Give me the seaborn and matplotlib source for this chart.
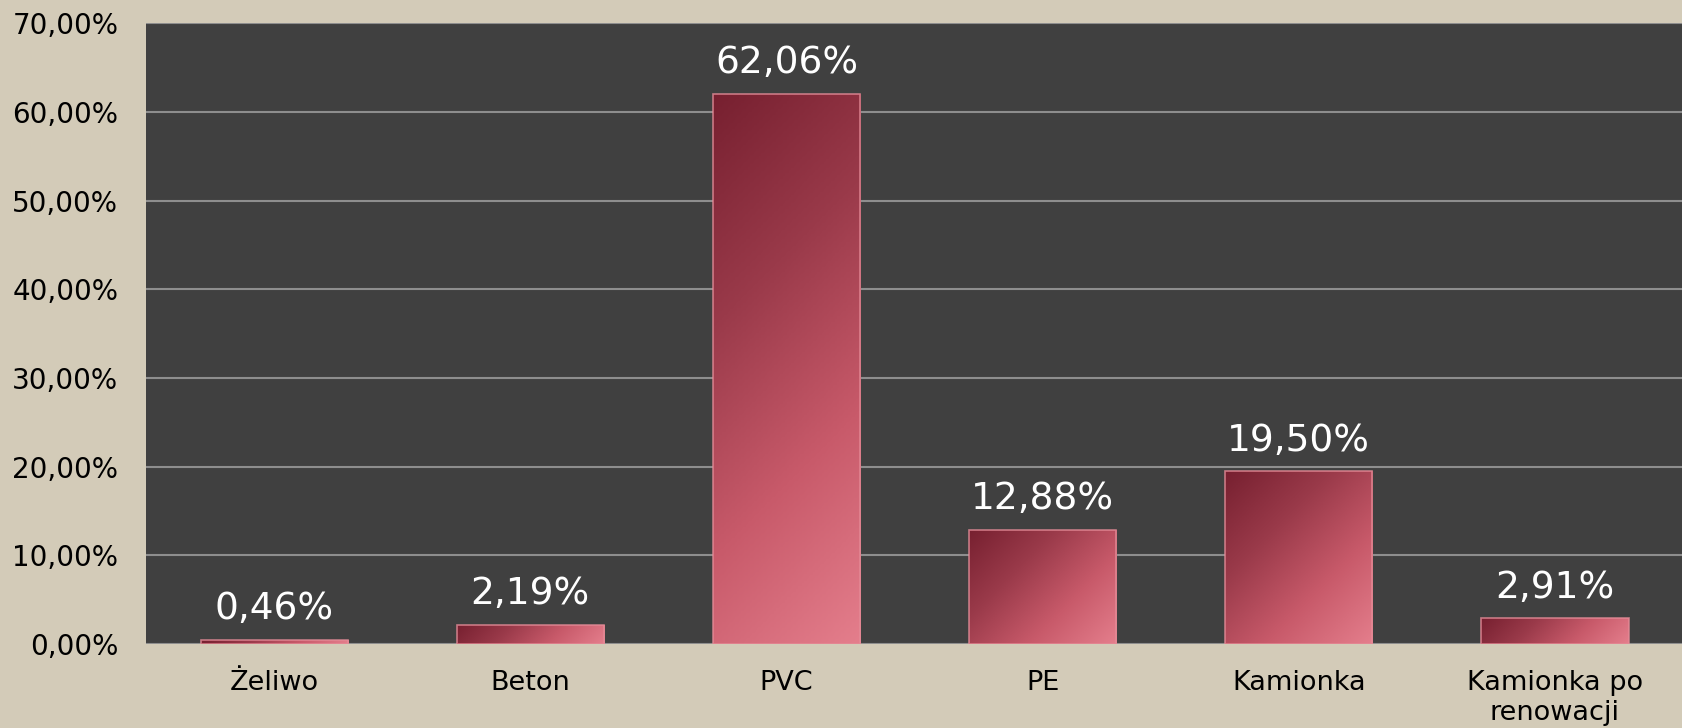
import numpy as np
import matplotlib
matplotlib.use("Agg")
import matplotlib.pyplot as plt
from matplotlib.colors import LinearSegmentedColormap
from matplotlib.patches import Rectangle
from matplotlib.ticker import FuncFormatter, MultipleLocator
import seaborn as sb

# data
categories = ["Żeliwo", "Beton", "PVC", "PE", "Kamionka", "Kamionka po\nrenowacji"]
values = [0.46, 2.19, 62.06, 12.88, 19.50, 2.91]

sb.set_style("white")
plt.rcParams['font.family'] = ['DejaVu Sans']

fig = plt.figure(figsize=(16.83, 7.28), dpi=100, facecolor="#D3CBB8")
ax = fig.add_axes([0.0868, 0.1154, 0.9132, 0.8526])
ax.set_facecolor("#404040")

sb.barplot(x=categories, y=values, ax=ax, width=0.575, color="#B04858",
           edgecolor="none", linewidth=0, zorder=3)

ax.set_xlim(-0.5, len(categories) - 0.5)
ax.set_ylim(0, 70)
ax.set_autoscale_on(False)
ax.yaxis.set_major_locator(MultipleLocator(10))
ax.yaxis.set_major_formatter(FuncFormatter(lambda v, p: f"{v:.2f}%".replace(".", ",")))
ax.grid(axis="y", color="#8E8E8E", linewidth=1.5, zorder=0)
ax.set_axisbelow(True)
for s in ax.spines.values():
    s.set_visible(False)
ax.tick_params(axis="y", length=0, pad=20, labelsize=20, labelcolor="black")
ax.tick_params(axis="x", length=0, pad=19, labelsize=19.5, labelcolor="black")
ax.set_xlabel("")
ax.set_ylabel("")

# gradient fill clipped to each bar (dark top-left -> pink bottom-right)
cmap = LinearSegmentedColormap.from_list("bar", ["#772030", "#9A3A4A", "#C85A6A", "#E47E8C"])
fig.canvas.draw()
bars = list(ax.patches)
for bar in bars:
    x0, y0 = bar.get_x(), bar.get_y()
    w, h = bar.get_width(), bar.get_height()
    (px0, py0), (px1, py1) = ax.transData.transform([(x0, y0), (x0 + w, y0 + h)])
    pw, ph = max(px1 - px0, 1), max(py1 - py0, 1)
    u = np.linspace(0, 1, 80)[None, :] * pw
    v = np.linspace(0, 1, 200)[:, None] * ph  # from top
    t = (u + v) / (pw + ph)
    im = ax.imshow(t, cmap=cmap, extent=(x0, x0 + w, y0, y0 + h), origin="upper",
                   aspect="auto", zorder=4, vmin=0, vmax=1)
    im.set_clip_path(bar)
    # light bevel outline
    ax.add_patch(Rectangle((x0, y0), w, h, fill=False, edgecolor="#E58C98",
                           linewidth=1.2, alpha=0.8, zorder=5))

for i, v in enumerate(values):
    ax.annotate(f"{v:.2f}%".replace(".", ","), (i, v), xytext=(0, 9),
                textcoords="offset points", ha="center", va="bottom",
                fontsize=27, color="white", zorder=6)

fig.savefig("out.png", dpi=100, facecolor=fig.get_facecolor())
